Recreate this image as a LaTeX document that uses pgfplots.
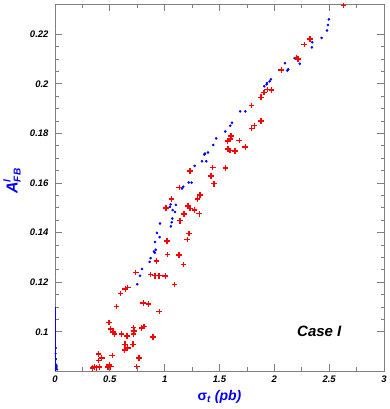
\documentclass[border=0pt]{standalone}
\usepackage{pgfplots}
\usepackage{pgfplotstable}
\pgfplotsset{compat=1.18}
\usepackage{fontspec}
\setmainfont{Liberation Sans}

% red crosses
\pgfplotstableread{
x y
0.736 0.1240
0.869 0.1231
0.912 0.1226
0.948 0.1226
1.005 0.1225
1.088 0.1191
0.663 0.1179
0.641 0.1172
0.599 0.1155
0.805 0.1117
0.854 0.1112
0.559 0.1102
0.951 0.1082
0.492 0.1038
0.508 0.1011
0.529 0.1000
0.541 0.0991
0.608 0.0992
0.656 0.0983
0.714 0.1018
0.723 0.1004
0.717 0.0991
0.790 0.1015
0.811 0.1022
0.893 0.0979
0.638 0.0950
0.711 0.0950
0.663 0.0935
0.635 0.0927
0.395 0.0911
0.426 0.0894
0.395 0.0885
0.522 0.0905
0.766 0.0895
0.358 0.0859
0.380 0.0855
0.407 0.0858
0.495 0.0866
0.508 0.0859
0.745 0.0860
0.342 0.0854
0.483 0.0858
1.133 0.1582
1.322 0.1551
1.301 0.1536
1.064 0.1536
1.012 0.1499
1.212 0.1507
1.231 0.1498
1.273 0.1492
1.315 0.1476
1.176 0.1475
1.139 0.1448
1.222 0.1397
1.206 0.1373
1.021 0.1366
1.024 0.1312
1.130 0.1309
0.927 0.1285
1.170 0.1272
1.231 0.1649
1.438 0.1663
1.556 0.1660
1.422 0.1628
1.449 0.1597
1.604 0.1789
1.598 0.1778
1.574 0.1769
1.680 0.1772
1.577 0.1737
1.595 0.1731
1.641 0.1729
1.735 0.1746
1.793 0.1913
1.817 0.1831
1.793 0.1820
1.878 0.1850
2.325 0.2181
2.273 0.2159
2.203 0.2106
2.215 0.2100
2.063 0.2056
1.935 0.1977
1.975 0.1975
1.905 0.1965
1.878 0.1946
2.632 0.2316
}\redpts

% blue dots
\pgfplotstableread{
x y
0.775 0.1226
0.750 0.1192
0.793 0.1253
0.863 0.1282
0.872 0.1297
0.902 0.1324
0.909 0.1319
0.918 0.1331
0.912 0.1362
0.954 0.1382
0.930 0.1399
0.957 0.1437
1.057 0.1425
1.064 0.1442
1.069 0.1457
1.094 0.1483
1.073 0.1491
1.048 0.1504
1.055 0.1514
1.103 0.1512
1.158 0.1578
1.170 0.1585
1.219 0.1602
1.246 0.1602
1.273 0.1669
1.340 0.1688
1.379 0.1688
1.361 0.1715
1.367 0.1719
1.395 0.1723
1.443 0.1753
1.470 0.1780
1.552 0.1808
1.598 0.1831
1.614 0.1843
1.689 0.1889
1.735 0.1889
1.908 0.1990
1.930 0.1998
1.933 0.2003
1.957 0.2010
1.969 0.2018
2.097 0.2083
2.118 0.2054
2.127 0.2059
2.185 0.2104
2.231 0.2081
2.346 0.2168
2.343 0.2147
2.431 0.2185
2.480 0.2215
2.489 0.2237
2.498 0.2260
}\bluepts

\begin{document}
\begin{tikzpicture}
\useasboundingbox (-55pt,-38pt) rectangle (334pt,371pt);
\begin{axis}[
  at={(0pt,0pt)}, anchor=south west,
  scale only axis,
  width=329pt, height=366.5pt,
  xmin=0, xmax=3, ymin=0.0842, ymax=0.232,
  xtick={0,0.5,1,1.5,2,2.5,3},
  xticklabels={0,0.5,1,1.5,2,2.5,3},
  ytick={0.1,0.12,0.14,0.16,0.18,0.2,0.22},
  yticklabels={0.1,0.12,0.14,0.16,0.18,0.2,0.22},
  minor x tick num=1, minor y tick num=3,
  xtick pos=both, ytick pos=both,
  tick align=inside,
  major tick length=7pt, minor tick length=3.5pt,
  axis line style={draw=gray, line width=0.8pt},
  tick style={gray, line width=0.8pt},
  ticklabel style={font=\fontsize{9.5}{10}\bfseries\itshape\selectfont, text=black},
  xticklabel style={yshift=-1pt},
  yticklabel style={xshift=-3pt},
  xlabel={{\upshape σ}\textsubscript{t} (pb)},
  xlabel style={at={(axis description cs:0.5,0)}, anchor=base, yshift=-29pt,
    font=\fontsize{14}{14}\bfseries\itshape\selectfont, text=blue},
  ylabel={A\rlap{\raisebox{7pt}{\fontsize{10}{10}\selectfont l}}\raisebox{-3pt}{\fontsize{10}{10}\selectfont FB}},
  ylabel style={at={(axis description cs:-0.1307,0.518)}, anchor=center,
    font=\fontsize{16}{16}\bfseries\itshape\selectfont, text=blue},
]
  % points piled up at sigma ~ 0
  \addplot[draw=blue, line width=1.2pt] coordinates {(0.002,0.0842) (0.002,0.110)};
  \addplot[only marks, mark=*, mark size=0.9pt, color=blue] coordinates {
    (0.008,0.0850) (0.014,0.0855) (0.020,0.0848) (0.010,0.0868)
    (0.016,0.0862) (0.009,0.0890) (0.006,0.0912) (0.008,0.0935)
  };

  \addplot[only marks, mark=*, mark size=1.1pt, color=blue] table {\bluepts};
  \addplot[only marks, mark=+, mark size=2.8pt, red,
    mark options={red, line width=1.4pt}] table {\redpts};

  \node[font=\fontsize{15}{15}\bfseries\itshape\selectfont] at (axis cs:2.41,0.1) {Case I};
\end{axis}
\end{tikzpicture}
\end{document}
